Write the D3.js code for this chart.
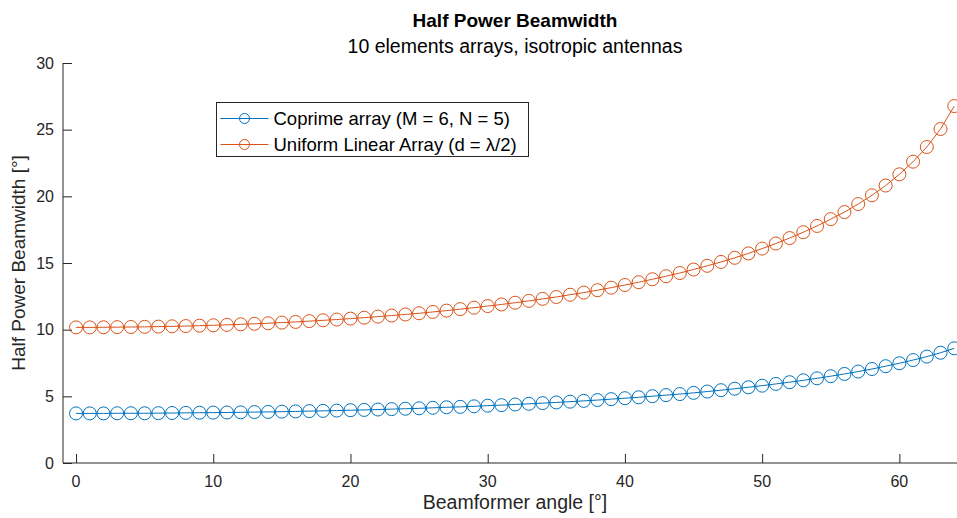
<!DOCTYPE html>
<html>
<head>
<meta charset="utf-8">
<script src="https://cdn.jsdelivr.net/npm/d3@7"></script>
<style>
  body { margin: 0; background: #fff; }
  svg { font-family: "Liberation Sans", Arial, sans-serif; }
</style>
</head>
<body>
<svg width="957" height="518"></svg>
<script>
var width = 957, height = 518;

// beamformer angles, degrees
var angles = d3.range(0, 65);

// values
var coprime = [3.72, 3.72, 3.72, 3.73, 3.73, 3.73, 3.74, 3.75, 3.76, 3.77,
  3.78, 3.79, 3.80, 3.82, 3.83, 3.85, 3.87, 3.89, 3.91, 3.93,
  3.96, 3.98, 4.01, 4.04, 4.07, 4.10, 4.14, 4.18, 4.21, 4.25,
  4.30, 4.34, 4.39, 4.44, 4.49, 4.54, 4.60, 4.66, 4.72, 4.79,
  4.86, 4.93, 5.01, 5.09, 5.17, 5.26, 5.36, 5.46, 5.57, 5.68,
  5.80, 5.93, 6.06, 6.20, 6.35, 6.51, 6.68, 6.86, 7.05, 7.26,
  7.48, 7.72, 7.98, 8.27, 8.60];

var ula = [10.17, 10.17, 10.18, 10.19, 10.20, 10.21, 10.23, 10.25, 10.27, 10.30,
  10.33, 10.36, 10.40, 10.44, 10.48, 10.53, 10.58, 10.64, 10.70, 10.76,
  10.83, 10.90, 10.98, 11.06, 11.14, 11.23, 11.33, 11.43, 11.54, 11.65,
  11.77, 11.89, 12.02, 12.16, 12.31, 12.45, 12.62, 12.78, 12.96, 13.15,
  13.35, 13.56, 13.78, 14.01, 14.25, 14.51, 14.79, 15.08, 15.39, 15.72,
  16.08, 16.46, 16.87, 17.31, 17.78, 18.29, 18.82, 19.42, 20.08, 20.81,
  21.65, 22.60, 23.70, 25.05, 26.77];

var xTicks = [0, 10, 20, 30, 40, 50, 60];
var yTicks = [0, 5, 10, 15, 20, 25, 30];

var seriesNames = ["Coprime array (M = 6, N = 5)", "Uniform Linear Array (d = λ/2)"];
var seriesColors = ["#0072BD", "#D95319"];

var margin = {left: 63, right: 0, top: 63, bottom: 55};

var x = d3.scaleLinear()
    .domain([-0.95, 64.2])
    .range([margin.left, width - margin.right]);

var y = d3.scaleLinear()
    .domain([0, 30])
    .range([height - margin.bottom, margin.top]);

var svg = d3.select("svg");
var axisColor = "#262626";

// axes, MATLAB style: ticks pointing inward, no box
var xAxis = svg.append("g")
    .attr("transform", `translate(0,${y(0)})`)
    .call(d3.axisTop(x).tickValues(xTicks).tickSize(9).tickFormat(""));
xAxis.select(".domain").attr("d", `M${margin.left},0H${width}`);

var yAxis = svg.append("g")
    .attr("transform", `translate(${margin.left},0)`)
    .call(d3.axisRight(y).tickValues(yTicks).tickSize(9).tickFormat(""));
yAxis.select(".domain").attr("d", `M0,${y(30)}V${y(0)}`);

svg.selectAll(".domain, .tick line")
    .attr("stroke", axisColor)
    .attr("stroke-width", 1);

// tick labels
svg.append("g").selectAll("text")
    .data(xTicks)
    .enter().append("text")
    .attr("x", d => x(d))
    .attr("y", y(0) + 24)
    .attr("text-anchor", "middle")
    .attr("font-size", 16)
    .attr("fill", axisColor)
    .text(d => d);

svg.append("g").selectAll("text")
    .data(yTicks)
    .enter().append("text")
    .attr("x", margin.left - 9)
    .attr("y", d => y(d) + 5.5)
    .attr("text-anchor", "end")
    .attr("font-size", 16)
    .attr("fill", axisColor)
    .text(d => d);

// axis labels
svg.append("text")
    .attr("x", 515)
    .attr("y", 509)
    .attr("text-anchor", "middle")
    .attr("font-size", 19.5)
    .attr("fill", axisColor)
    .text("Beamformer angle [°]");

svg.append("text")
    .attr("transform", `translate(25,${(y(0) + y(30)) / 2}) rotate(-90)`)
    .attr("text-anchor", "middle")
    .attr("font-size", 19)
    .attr("fill", axisColor)
    .text("Half Power Beamwidth [°]");

// titles
svg.append("text")
    .attr("x", 515)
    .attr("y", 27)
    .attr("text-anchor", "middle")
    .attr("font-size", 19)
    .attr("font-weight", "bold")
    .attr("fill", "#000")
    .text("Half Power Beamwidth");

svg.append("text")
    .attr("x", 515)
    .attr("y", 53)
    .attr("text-anchor", "middle")
    .attr("font-size", 19.5)
    .attr("fill", "#000")
    .text("10 elements arrays, isotropic antennas");

// series
var line = d3.line()
    .x((d, i) => x(angles[i]))
    .y(d => y(d));

[coprime, ula].forEach(function(values, k) {
    svg.append("path")
        .datum(values)
        .attr("fill", "none")
        .attr("stroke", seriesColors[k])
        .attr("stroke-width", 1)
        .attr("d", line);

    svg.append("g").selectAll("circle")
        .data(values)
        .enter().append("circle")
        .attr("cx", (d, i) => x(angles[i]))
        .attr("cy", d => y(d))
        .attr("r", 6.5)
        .attr("fill", "none")
        .attr("stroke", seriesColors[k])
        .attr("stroke-width", 1);
});

// legend
var legend = svg.append("g").attr("transform", "translate(216.5,102.5)");
legend.append("rect")
    .attr("width", 312)
    .attr("height", 54)
    .attr("fill", "#fff")
    .attr("stroke", axisColor)
    .attr("stroke-width", 1);

seriesNames.forEach(function(name, k) {
    var row = legend.append("g").attr("transform", `translate(0,${16 + k * 26})`);
    row.append("line")
        .attr("x1", 4).attr("x2", 52)
        .attr("y1", 0).attr("y2", 0)
        .attr("stroke", seriesColors[k])
        .attr("stroke-width", 1);
    row.append("circle")
        .attr("cx", 28).attr("cy", 0).attr("r", 5)
        .attr("fill", "none")
        .attr("stroke", seriesColors[k]);
    row.append("text")
        .attr("x", 57)
        .attr("y", 6.5)
        .attr("font-size", 18.5)
        .attr("fill", "#000")
        .text(name);
});
</script>
</body>
</html>
